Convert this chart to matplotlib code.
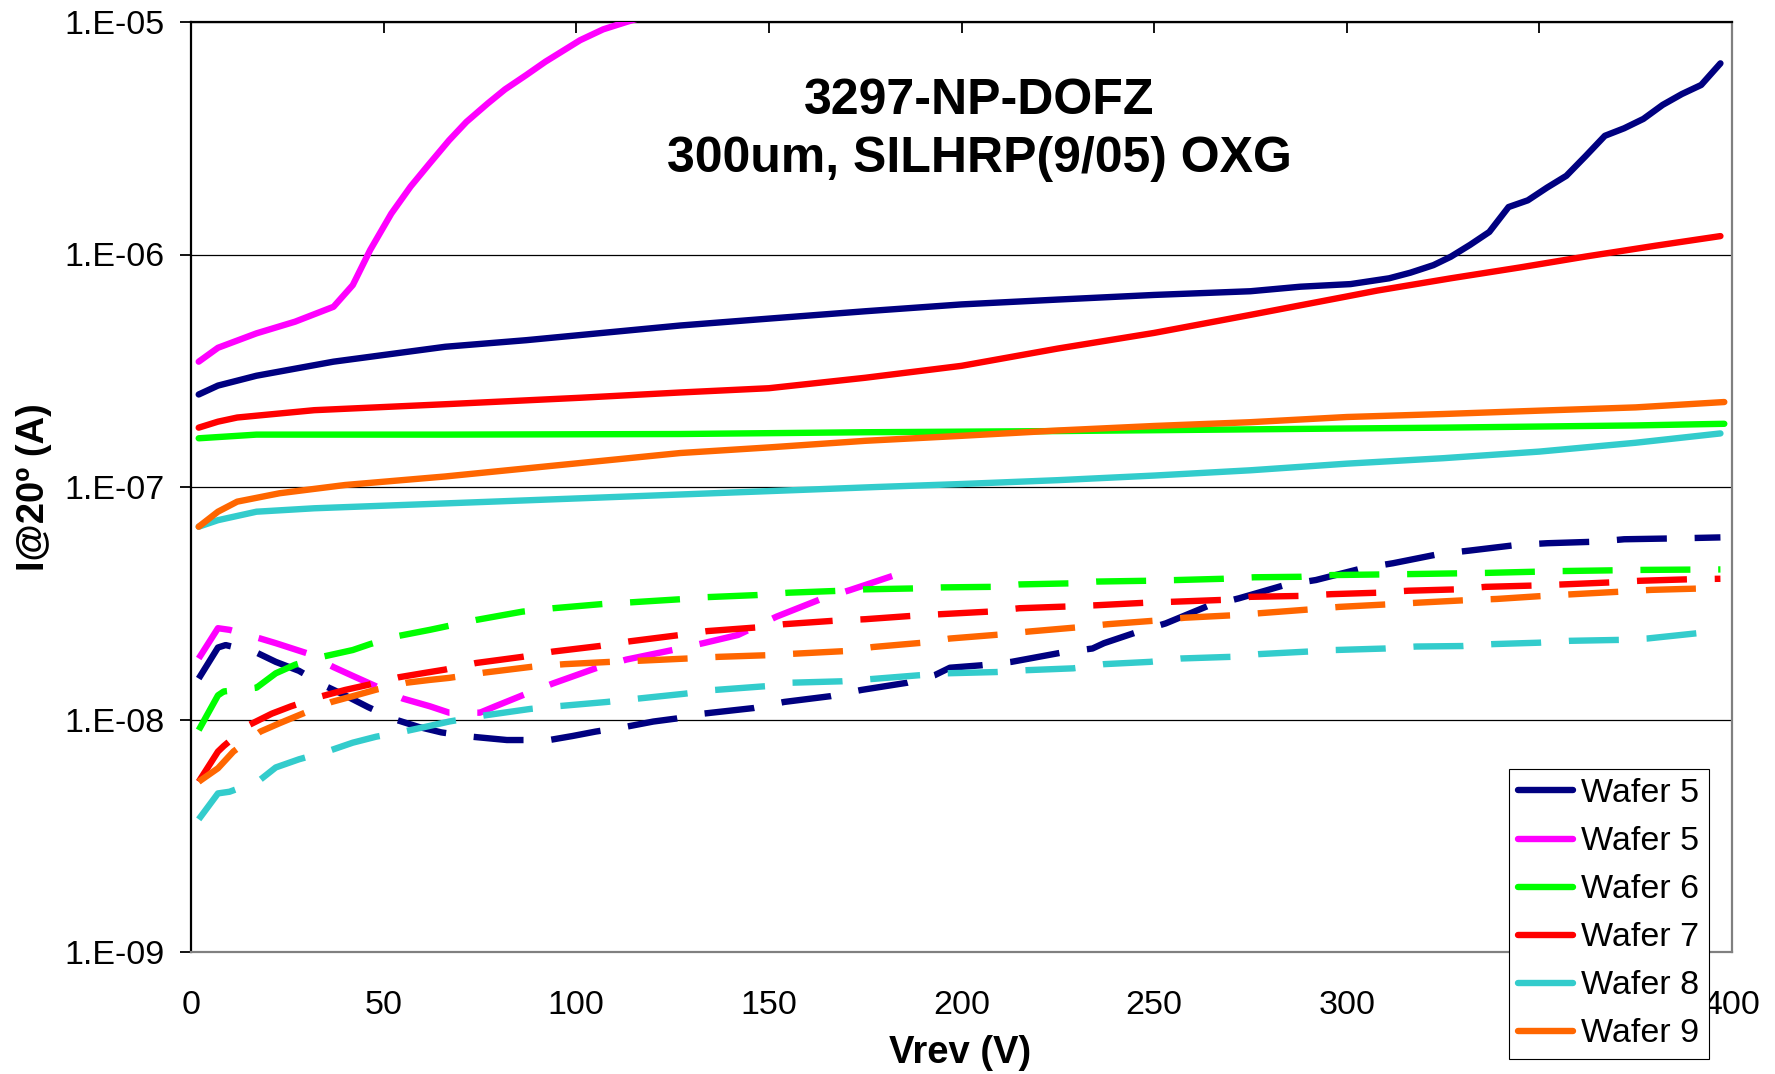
import matplotlib
matplotlib.use("Agg")
import matplotlib.pyplot as plt
from matplotlib.ticker import FixedLocator, NullLocator

plt.rcParams['font.family'] = ['Liberation Sans', 'DejaVu Sans']

# ---------------- data (Vrev in V, current in A) ----------------
series_labels = ["Wafer 5", "Wafer 5", "Wafer 6", "Wafer 7", "Wafer 8", "Wafer 9"]
series_colors = ["#000080", "#FF00FF", "#00FF00", "#FF0000", "#33CCCC", "#FF6600"]

# solid curves
v_w5a = [2, 7, 17, 37, 66, 87, 127, 150, 175, 200, 225, 250, 275, 288, 301, 311, 316.5, 322.5, 327,
         332, 337, 342, 347, 352, 357, 362, 367, 372, 377, 382, 387, 392, 397]
i_w5a = [2.5e-7, 2.73e-7, 3.01e-7, 3.46e-7, 4.01e-7, 4.28e-7, 4.95e-7, 5.3e-7, 5.7e-7, 6.1e-7, 6.4e-7,
         6.7e-7, 6.95e-7, 7.27e-7, 7.46e-7, 7.9e-7, 8.35e-7, 9.0e-7, 9.78e-7,
         1.1e-6, 1.25e-6, 1.6e-6, 1.71e-6, 1.94e-6, 2.18e-6, 2.65e-6, 3.24e-6, 3.49e-6, 3.83e-6,
         4.4e-6, 4.9e-6, 5.36e-6, 6.64e-6]

v_w5b = [2, 7, 17, 27, 37, 42, 46.5, 52, 57, 62, 67, 71.5, 77, 81.5, 87, 92, 101, 107, 113, 125, 135]
i_w5b = [3.46e-7, 3.97e-7, 4.58e-7, 5.14e-7, 5.96e-7, 7.39e-7, 1.045e-6, 1.5e-6, 1.96e-6, 2.47e-6,
         3.1e-6, 3.72e-6, 4.46e-6, 5.13e-6, 5.91e-6, 6.75e-6, 8.35e-6, 9.3e-6, 1.0e-5, 1.15e-5, 1.3e-5]

v_w6 = [2, 17, 66, 127, 175, 225, 275, 325, 375, 398]
i_w6 = [1.62e-7, 1.68e-7, 1.68e-7, 1.69e-7, 1.72e-7, 1.74e-7, 1.77e-7, 1.8e-7, 1.84e-7, 1.87e-7]

v_w7 = [2, 7, 12, 32, 66, 101, 127, 150, 175, 200, 225, 250, 275, 300, 308, 327, 345, 362, 380, 397]
i_w7 = [1.8e-7, 1.91e-7, 1.99e-7, 2.14e-7, 2.27e-7, 2.42e-7, 2.55e-7, 2.66e-7, 2.95e-7, 3.32e-7,
        3.94e-7, 4.6e-7, 5.5e-7, 6.6e-7, 7.0e-7, 7.9e-7, 8.8e-7, 9.8e-7, 1.09e-6, 1.2e-6]

v_w8 = [2, 7, 17, 32, 66, 101, 150, 178, 200, 225, 250, 275, 300, 325, 350, 375, 397]
i_w8 = [6.75e-8, 7.2e-8, 7.83e-8, 8.1e-8, 8.5e-8, 8.94e-8, 9.6e-8, 1.0e-7, 1.03e-7, 1.07e-7,
        1.12e-7, 1.18e-7, 1.26e-7, 1.33e-7, 1.42e-7, 1.55e-7, 1.7e-7]

v_w9 = [2, 7, 12, 23, 40, 66, 127, 150, 175, 200, 225, 250, 275, 300, 325, 350, 375, 398]
i_w9 = [6.75e-8, 7.83e-8, 8.65e-8, 9.4e-8, 1.02e-7, 1.11e-7, 1.40e-7, 1.48e-7, 1.58e-7, 1.66e-7,
        1.75e-7, 1.83e-7, 1.9e-7, 2.0e-7, 2.06e-7, 2.13e-7, 2.2e-7, 2.32e-7]

# dashed curves
v_w5a_d = [2, 7, 9, 17, 22, 28, 35, 40, 46, 53, 59, 65, 73, 82, 93, 99, 105, 113, 120, 126, 133, 146,
           154, 166, 174, 186, 193, 197, 205, 213, 226, 234, 237, 246, 253, 264, 272, 284, 292, 304,
           312, 324, 332, 344, 352, 365, 372, 385, 397]
i_w5a_d = [1.5e-8, 2.04e-8, 2.09e-8, 1.94e-8, 1.77e-8, 1.62e-8, 1.39e-8, 1.27e-8, 1.13e-8, 1.0e-8,
           9.3e-9, 8.8e-9, 8.43e-9, 8.16e-9, 8.16e-9, 8.49e-9, 8.87e-9, 9.31e-9, 9.8e-9, 1.01e-8,
           1.06e-8, 1.12e-8, 1.19e-8, 1.26e-8, 1.34e-8, 1.44e-8, 1.55e-8, 1.67e-8, 1.71e-8, 1.77e-8,
           1.94e-8, 2.02e-8, 2.13e-8, 2.39e-8, 2.59e-8, 3.08e-8, 3.32e-8, 3.79e-8, 3.98e-8, 4.47e-8,
           4.7e-8, 5.15e-8, 5.33e-8, 5.63e-8, 5.73e-8, 5.82e-8, 5.96e-8, 6.01e-8, 6.07e-8]

v_w5b_d = [2, 7, 10, 18, 22, 30, 37, 42, 48, 55, 62, 67, 75, 79, 86, 94, 105, 113, 125, 133, 142,
           152, 164, 171, 182]
i_w5b_d = [1.83e-8, 2.47e-8, 2.43e-8, 2.23e-8, 2.13e-8, 1.93e-8, 1.68e-8, 1.54e-8, 1.39e-8, 1.23e-8,
           1.14e-8, 1.07e-8, 1.07e-8, 1.14e-8, 1.27e-8, 1.43e-8, 1.66e-8, 1.81e-8, 1.99e-8, 2.13e-8,
           2.31e-8, 2.77e-8, 3.32e-8, 3.6e-8, 4.14e-8]

v_w6_d = [2, 7, 8.5, 17, 22, 27, 34, 42, 46.5, 54, 62, 66, 74, 86, 94, 107, 114, 127, 134, 147, 155,
          167, 175, 187, 195, 208, 215, 228, 235, 248, 256, 268, 276, 288, 296, 316, 336, 356, 377, 397]
i_w6_d = [9.0e-9, 1.27e-8, 1.32e-8, 1.37e-8, 1.58e-8, 1.72e-8, 1.86e-8, 1.99e-8, 2.11e-8, 2.29e-8,
          2.43e-8, 2.51e-8, 2.68e-8, 2.91e-8, 3.01e-8, 3.14e-8, 3.19e-8, 3.29e-8, 3.36e-8, 3.43e-8,
          3.51e-8, 3.57e-8, 3.63e-8, 3.66e-8, 3.7e-8, 3.72e-8, 3.81e-8, 3.85e-8, 3.92e-8, 3.95e-8,
          3.98e-8, 4.03e-8, 4.09e-8, 4.11e-8, 4.18e-8, 4.22e-8, 4.27e-8, 4.35e-8, 4.4e-8, 4.42e-8]

v_w7_d = [2, 7, 8.5, 15, 21, 26, 34, 40, 46, 54, 60, 66, 74, 86, 94, 106, 114, 127, 134, 147, 154,
          167, 175, 187, 195, 207, 215, 227, 235, 248, 255, 268, 275, 288, 296, 308, 316, 329, 336,
          349, 356, 369, 376, 389, 397]
i_w7_d = [5.4e-9, 7.28e-9, 7.69e-9, 9.46e-9, 1.06e-8, 1.14e-8, 1.26e-8, 1.34e-8, 1.41e-8, 1.52e-8,
          1.58e-8, 1.64e-8, 1.75e-8, 1.86e-8, 1.96e-8, 2.07e-8, 2.17e-8, 2.31e-8, 2.4e-8, 2.49e-8,
          2.57e-8, 2.66e-8, 2.7e-8, 2.79e-8, 2.84e-8, 2.91e-8, 3.01e-8, 3.06e-8, 3.1e-8, 3.18e-8,
          3.21e-8, 3.27e-8, 3.37e-8, 3.4e-8, 3.46e-8, 3.51e-8, 3.58e-8, 3.63e-8, 3.72e-8, 3.77e-8,
          3.81e-8, 3.89e-8, 3.95e-8, 4.01e-8, 4.03e-8]

v_w8_d = [2, 7, 10, 17.5, 22, 28, 36, 42, 48, 56, 61, 67, 76, 88, 95, 108, 116, 128, 136, 149, 156,
          169, 176, 189, 196, 209, 217, 229, 237, 249, 257, 270, 277, 290, 297, 310, 318, 330, 338,
          350, 358, 371, 378, 391, 397]
i_w8_d = [3.72e-9, 4.81e-9, 4.89e-9, 5.43e-9, 6.22e-9, 6.74e-9, 7.35e-9, 7.95e-9, 8.43e-9, 8.93e-9,
          9.31e-9, 9.8e-9, 1.04e-8, 1.11e-8, 1.14e-8, 1.19e-8, 1.23e-8, 1.29e-8, 1.34e-8, 1.39e-8,
          1.44e-8, 1.46e-8, 1.49e-8, 1.55e-8, 1.58e-8, 1.6e-8, 1.63e-8, 1.66e-8, 1.73e-8, 1.77e-8,
          1.83e-8, 1.86e-8, 1.91e-8, 1.96e-8, 1.99e-8, 2.02e-8, 2.06e-8, 2.07e-8, 2.11e-8, 2.14e-8,
          2.18e-8, 2.2e-8, 2.23e-8, 2.35e-8, 2.38e-8]

v_w9_d = [2, 7, 11, 18, 23, 29, 36.5, 42, 48.5, 56, 62, 67, 76, 89, 97, 109, 116.5, 129, 137, 149.5,
          157, 170, 177, 190, 197, 210, 217.5, 230, 238, 250, 258, 271, 278, 291, 298, 311, 318.5,
          331, 339, 351, 359, 371.5, 379, 392, 397]
i_w9_d = [5.4e-9, 6.17e-9, 7.28e-9, 8.87e-9, 9.64e-9, 1.06e-8, 1.19e-8, 1.26e-8, 1.35e-8, 1.44e-8,
          1.48e-8, 1.51e-8, 1.59e-8, 1.69e-8, 1.73e-8, 1.77e-8, 1.79e-8, 1.83e-8, 1.86e-8, 1.89e-8,
          1.92e-8, 1.97e-8, 2.05e-8, 2.14e-8, 2.23e-8, 2.32e-8, 2.39e-8, 2.49e-8, 2.57e-8, 2.66e-8,
          2.74e-8, 2.81e-8, 2.87e-8, 2.98e-8, 3.05e-8, 3.13e-8, 3.18e-8, 3.26e-8, 3.3e-8, 3.4e-8,
          3.46e-8, 3.55e-8, 3.61e-8, 3.66e-8, 3.7e-8]

solid_v = [v_w5a, v_w5b, v_w6, v_w7, v_w8, v_w9]
solid_i = [i_w5a, i_w5b, i_w6, i_w7, i_w8, i_w9]
dash_v = [v_w5a_d, v_w5b_d, v_w6_d, v_w7_d, v_w8_d, v_w9_d]
dash_i = [i_w5a_d, i_w5b_d, i_w6_d, i_w7_d, i_w8_d, i_w9_d]

x_ticks = [0, 50, 100, 150, 200, 250, 300, 350, 400]
y_ticks = [1e-9, 1e-8, 1e-7, 1e-6, 1e-5]
y_ticklabels = ["1.E-09", "1.E-08", "1.E-07", "1.E-06", "1.E-05"]

title_line1 = "3297-NP-DOFZ"
title_line2 = "300um, SILHRP(9/05) OXG"
x_label = "Vrev (V)"
y_label = "I@20º (A)"

# ---------------- figure ----------------
W, H = 1775, 1074
fig = plt.figure(figsize=(W / 100, H / 100), dpi=100)
ax = fig.add_axes([191 / W, 1 - 952 / H, (1732 - 191) / W, (952 - 22) / H])

LW = 4.6
dash_style = (0, (36 / LW, 20 / LW))

handles = []
for k in range(6):
    ax.plot(dash_v[k], dash_i[k], color=series_colors[k], lw=LW, linestyle=dash_style,
            dash_capstyle='butt', zorder=3)
for k in range(6):
    h, = ax.plot(solid_v[k], solid_i[k], color=series_colors[k], lw=LW, label=series_labels[k],
                 solid_capstyle='round', solid_joinstyle='round', zorder=4)
    handles.append(h)

ax.set_yscale('log')
ax.set_xlim(0, 400)
ax.set_ylim(1e-9, 1e-5)
ax.yaxis.set_major_locator(FixedLocator(y_ticks))
ax.yaxis.set_minor_locator(NullLocator())
ax.set_yticklabels(y_ticklabels)
ax.xaxis.set_major_locator(FixedLocator(x_ticks))
ax.set_xticklabels([str(t) for t in x_ticks])

ax.grid(True, axis='y', which='major', color='black', lw=0.9, zorder=1)
ax.set_axisbelow(True)

ax.tick_params(axis='y', which='major', direction='out', length=8, width=1.3,
               labelsize=24.5, pad=11, left=True, right=False)
ax.tick_params(axis='x', which='major', direction='in', length=8, width=1.3,
               labelsize=24.5, pad=27, top=True, bottom=False, labelbottom=True, labeltop=False)

for s in ['top', 'left']:
    ax.spines[s].set_color('black')
    ax.spines[s].set_linewidth(1.6)
for s in ['right', 'bottom']:
    ax.spines[s].set_color('#808080')
    ax.spines[s].set_linewidth(1.6)

# title inside plot
fig.text(979 / W, 1 - 101 / H, title_line1, ha='center', va='center',
         fontsize=36, fontweight='bold')
fig.text(979 / W, 1 - 159 / H, title_line2, ha='center', va='center',
         fontsize=36, fontweight='bold')

fig.text(960 / W, 1 - 1053 / H, x_label, ha='center', va='center', fontsize=27.5, fontweight='bold')
fig.text(34 / W, 1 - 487 / H, y_label, ha='center', va='center', rotation=90, fontsize=27.5,
         fontweight='bold')

leg = fig.legend(handles=handles, loc='lower right', bbox_to_anchor=(1709 / W, 1 - 1059 / H),
                 bbox_transform=fig.transFigure, fontsize=24.5, frameon=True, fancybox=False,
                 edgecolor='black', framealpha=1, borderpad=0.28, labelspacing=0.5,
                 handlelength=1.6, handletextpad=0.25, borderaxespad=0)
leg.get_frame().set_linewidth(0.8)

fig.savefig("out.png", dpi=100)
